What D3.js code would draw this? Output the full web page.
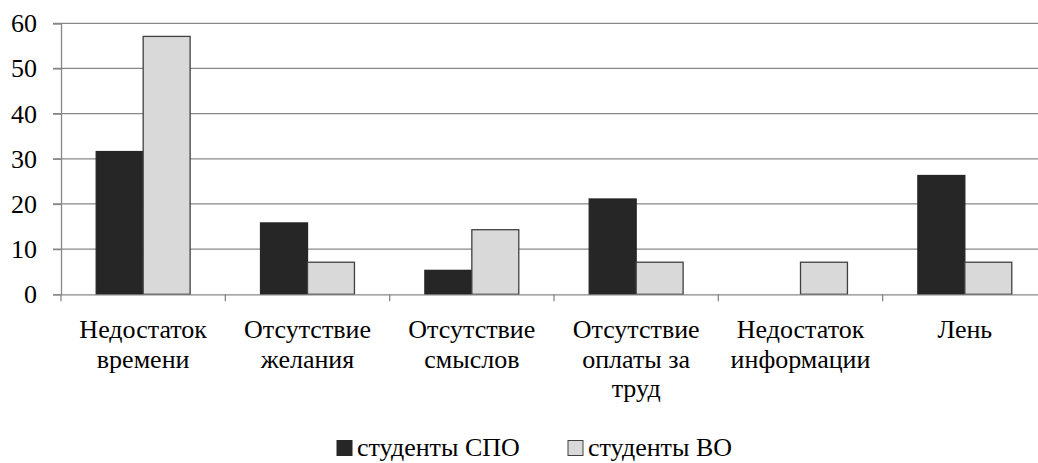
<!DOCTYPE html>
<html>
<head>
<meta charset="utf-8">
<script src="https://cdn.jsdelivr.net/npm/d3@7"></script>
</head>
<body style="margin:0;background:#fff">
<svg id="chart" width="1038" height="463" style="display:block"></svg>
<script>
// Причины, мешающие участию (% опрошенных); "|" marks a line break in a label
const categories = [
  "Недостаток|времени",
  "Отсутствие|желания",
  "Отсутствие|смыслов",
  "Отсутствие|оплаты за|труд",
  "Недостаток|информации",
  "Лень"
];
const seriesNames = ["студенты СПО", "студенты ВО"];
const spoValues = [31.6, 15.8, 5.3, 21.1, 0, 26.3];
const voValues  = [57.1, 7.1, 14.3, 7.1, 7.1, 7.1];
const yTicks = [0, 10, 20, 30, 40, 50, 60];

const colors = ["#262626", "#d9d9d9"];
const strokes = ["#262626", "#404040"];
const gridColor = "#878787";

const svg = d3.select("#chart");
const plotLeft = 61, plotRight = 1047, plotTop = 23.3, plotBottom = 294.3;

const x = d3.scaleBand().domain(categories).range([plotLeft, plotRight]).paddingInner(0).paddingOuter(0);
const x1 = d3.scaleBand().domain(seriesNames).range([0, x.bandwidth()]).paddingInner(0).paddingOuter(0.75);
const y = d3.scaleLinear().domain([0, 60]).range([plotBottom, plotTop]);

function serif(sel) {
  return sel.style("font-family", "\"Liberation Serif\"").style("font-size", "26px");
}

// horizontal gridlines, extending a little left of the value axis as tick marks
svg.append("g")
  .selectAll("line")
  .data(yTicks.filter(d => d > 0))
  .join("line")
  .attr("x1", plotLeft - 8).attr("x2", plotRight)
  .attr("y1", d => y(d)).attr("y2", d => y(d))
  .attr("stroke", gridColor).attr("stroke-width", 1.3);

// value axis (numbers drawn separately below)
const yAxis = svg.append("g")
  .attr("transform", `translate(${plotLeft},0)`)
  .call(d3.axisLeft(y).tickValues(yTicks).tickSize(8).tickFormat(""));
yAxis.select(".domain").attr("stroke", gridColor).attr("stroke-width", 1.3);
yAxis.selectAll(".tick line").attr("stroke", gridColor).attr("stroke-width", 1.3);

yTicks.forEach(v => {
  serif(svg.append("text"))
    .attr("x", plotLeft - 24).attr("y", y(v) + 9)
    .attr("text-anchor", "end")
    .text(v);
});

// bars
const groups = svg.append("g")
  .selectAll("g")
  .data(categories.map((c, i) => ({ c, vals: [spoValues[i], voValues[i]] })))
  .join("g")
  .attr("transform", d => `translate(${x(d.c)},0)`);

groups.selectAll("rect")
  .data(d => d.vals.map((v, j) => ({ v, j })).filter(e => e.v > 0))
  .join("rect")
  .attr("x", e => x1(seriesNames[e.j]))
  .attr("width", x1.bandwidth())
  .attr("y", e => y(e.v))
  .attr("height", e => y(0) - y(e.v))
  .attr("fill", e => colors[e.j])
  .attr("stroke", e => strokes[e.j])
  .attr("stroke-width", 1.3);

// category axis
const xAxis = svg.append("g")
  .attr("transform", `translate(0,${plotBottom})`)
  .call(d3.axisBottom(x).tickSize(0).tickFormat(""));
xAxis.select(".domain").attr("stroke", gridColor).attr("stroke-width", 1.3);

svg.append("g")
  .selectAll("line")
  .data(categories)
  .join("line")
  .attr("x1", d => x(d)).attr("x2", d => x(d))
  .attr("y1", plotBottom).attr("y2", plotBottom + 7)
  .attr("stroke", gridColor).attr("stroke-width", 1.3);

// category labels
categories.forEach(c => {
  const cx = x(c) + x.bandwidth() / 2;
  c.split("|").forEach((part, k) => {
    serif(svg.append("text"))
      .attr("x", cx).attr("y", 338 + k * 29.5)
      .attr("text-anchor", "middle")
      .text(part);
  });
});

// legend
const legendX = [337, 568];
seriesNames.forEach((s, i) => {
  svg.append("rect")
    .attr("x", legendX[i]).attr("y", 440.5)
    .attr("width", 15).attr("height", 15)
    .attr("fill", colors[i]).attr("stroke", strokes[i]).attr("stroke-width", 1);
  serif(svg.append("text"))
    .attr("x", legendX[i] + 20).attr("y", 456)
    .text(s);
});
</script>
</body>
</html>
